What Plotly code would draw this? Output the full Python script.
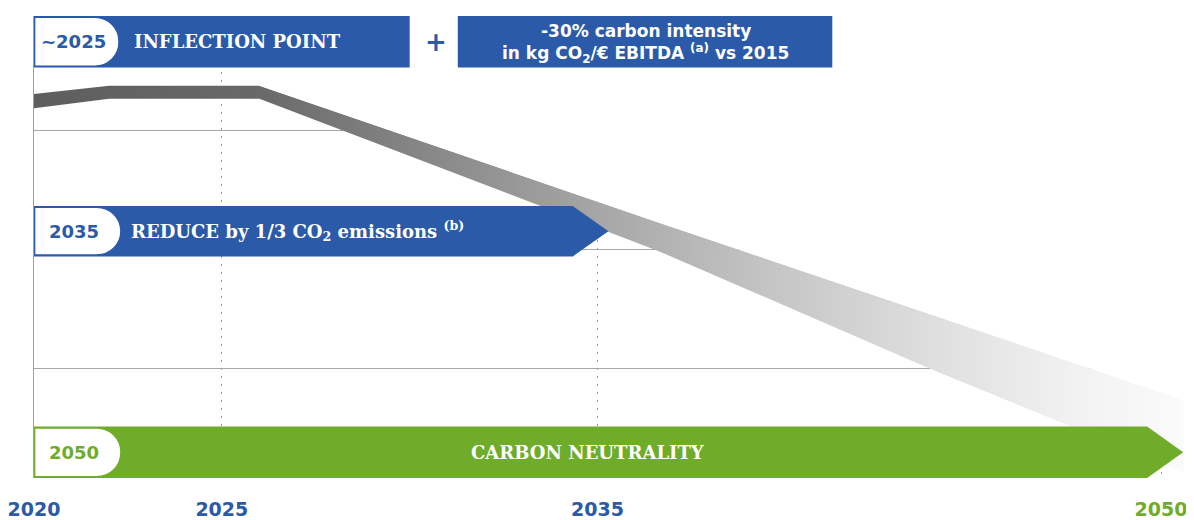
import plotly.graph_objects as go

# ---------------- data ----------------
tick_years = [2020, 2025, 2035, 2050]
tick_labels = ["2020", "2025", "2035", "2050"]
tick_colors = ["#2a5aa8", "#2a5aa8", "#2a5aa8", "#6fac2a"]

# emissions trajectory band (index units)
band_years = [2020, 2022, 2026, 2036.6, 2043.9, 2050.6]
band_upper = [3.31, 3.38, 3.38, 2.23, 1.45, 0.73]
band_lower = [3.19, 3.27, 3.27, 1.99, 0.99, 0.12]

grid_levels = [1, 2, 3]

milestone_labels = ["~2025", "2035", "2050"]
milestone_texts = [
    "INFLECTION POINT",
    "REDUCE by 1/3 CO<sub>2</sub> emissions <sup>(b)</sup>",
    "CARBON NEUTRALITY",
]
intensity_lines = [
    "-30% carbon intensity",
    "in kg CO<sub>2</sub>/€ EBITDA <sup>(a)</sup> vs 2015",
]

# ---------------- styles ----------------
BLUE = "#2a5aa8"
GREEN = "#6fac2a"
SANS = "DejaVu Sans"
SLAB = "DejaVu Serif"

X0, X1 = 2020, 2050.878
Y0, Y1 = 0.075, 3.967

fig = go.Figure()

# gradient band
fig.add_trace(go.Scatter(
    x=band_years + band_years[::-1],
    y=band_upper + band_lower[::-1],
    mode="lines", fill="toself", line=dict(width=0),
    fillgradient=dict(
        type="horizontal", start=band_years[0], stop=band_years[-1],
        colorscale=[[0, "#5e5e5e"], [0.19, "#686868"], [0.46, "#a0a0a0"],
                    [0.63, "#c3c3c3"], [0.78, "#dedede"], [0.9, "#f1f1f1"],
                    [1, "#fbfbfb"]]),
    hoverinfo="skip", showlegend=False,
))

# white mask above the descending part of the band (hides grid there)
mx = band_years[2:] + [X1 + 1, X1 + 1, band_years[2]]
my = band_upper[2:] + [band_upper[-1], 4.2, 4.2]
fig.add_trace(go.Scatter(
    x=mx, y=my, mode="lines", fill="toself", fillcolor="white",
    line=dict(width=0), hoverinfo="skip", showlegend=False,
))

shapes = []


def rect(x0, x1, y0, y1, color):
    shapes.append(dict(type="rect", xref="x", yref="y", x0=x0, x1=x1, y0=y0, y1=y1,
                       fillcolor=color, line=dict(width=0), layer="above"))


def arrow(x0, xb, xt, y0, y1, color):
    ym = (y0 + y1) / 2
    path = f"M{x0},{y0} L{xb},{y0} L{xt},{ym} L{xb},{y1} L{x0},{y1} Z"
    shapes.append(dict(type="path", xref="x", yref="y", path=path,
                       fillcolor=color, line=dict(width=0), layer="above"))


def tab(x0, x1, y0, y1, border, rx=0.64, ry=0.2):
    k = 0.5523
    p = (f"M{x0},{y1} L{x1 - rx},{y1} "
         f"C{x1 - rx + k * rx},{y1} {x1},{y1 - ry + k * ry} {x1},{y1 - ry} "
         f"L{x1},{y0 + ry} "
         f"C{x1},{y0 + ry - k * ry} {x1 - rx + k * rx},{y0} {x1 - rx},{y0} "
         f"L{x0},{y0} Z")
    shapes.append(dict(type="path", xref="x", yref="y", path=p, fillcolor="white",
                       line=dict(width=1.2, color=border), layer="above"))


# banners: top row
rect(2020, 2030.0, 3.533, 3.967, BLUE)
tab(2020.02, 2022.26, 3.545, 3.955, BLUE)
rect(2031.28, 2041.25, 3.533, 3.967, BLUE)
# 2035 arrow
arrow(2020, 2034.34, 2035.29, 1.942, 2.367, BLUE)
tab(2020.02, 2022.31, 1.954, 2.355, BLUE)
# 2050 arrow
arrow(2020, 2049.63, 2050.59, 0.075, 0.508, GREEN)
tab(2020.02, 2022.31, 0.087, 0.496, GREEN)

ann = []


def text(x, y, s, size, color, family, xanchor="center"):
    ann.append(dict(x=x, y=y, xref="x", yref="y", text=s, showarrow=False,
                    xanchor=xanchor, yanchor="middle",
                    font=dict(family=family, size=size, color=color, weight=700)))


row_y = [3.75, 2.154, 0.292]
row_col = [BLUE, BLUE, GREEN]
for lab, ty, c in zip(milestone_labels, row_y, row_col):
    text(2021.06, ty, lab, 18, c, SANS)

text(2022.62, row_y[0], milestone_texts[0], 18, "white", SLAB, "left")
text(2022.54, row_y[1], milestone_texts[1], 18, "white", SLAB, "left")
text(2034.76, row_y[2], milestone_texts[2], 18, "white", SLAB)
text(2030.69, row_y[0], "+", 26, BLUE, SANS)
text(2036.28, 3.84, intensity_lines[0], 17, "white", SANS)
text(2036.28, 3.655, intensity_lines[1], 17, "white", SANS)

ticktext = [f'<span style="color:{c}">{t}</span>' for t, c in zip(tick_labels, tick_colors)]

# the page body adds an 8px offset, so the figure is sized to fit the window
fig.update_layout(
    width=1186, height=512,
    margin=dict(l=25, r=0, t=8, b=37),
    plot_bgcolor="white", paper_bgcolor="white",
    shapes=shapes, annotations=ann, showlegend=False,
    xaxis=dict(range=[X0, X1], tickvals=tick_years, ticktext=ticktext,
               showgrid=True, griddash="2px,6px", gridcolor="#9a9a9a", gridwidth=1,
               zeroline=False, showline=False, ticks="",
               tickfont=dict(family=SANS, size=19, weight=700),
               ticklabelstandoff=18, ticklabeloverflow="allow", fixedrange=True),
    yaxis=dict(range=[Y0, Y1], tickvals=grid_levels, showticklabels=False,
               showgrid=True, gridcolor="#a8a8a8", gridwidth=1,
               zeroline=False, showline=True, linecolor="#a0a0a0", linewidth=1,
               ticks="", fixedrange=True),
)

fig.write_html("out.html")
